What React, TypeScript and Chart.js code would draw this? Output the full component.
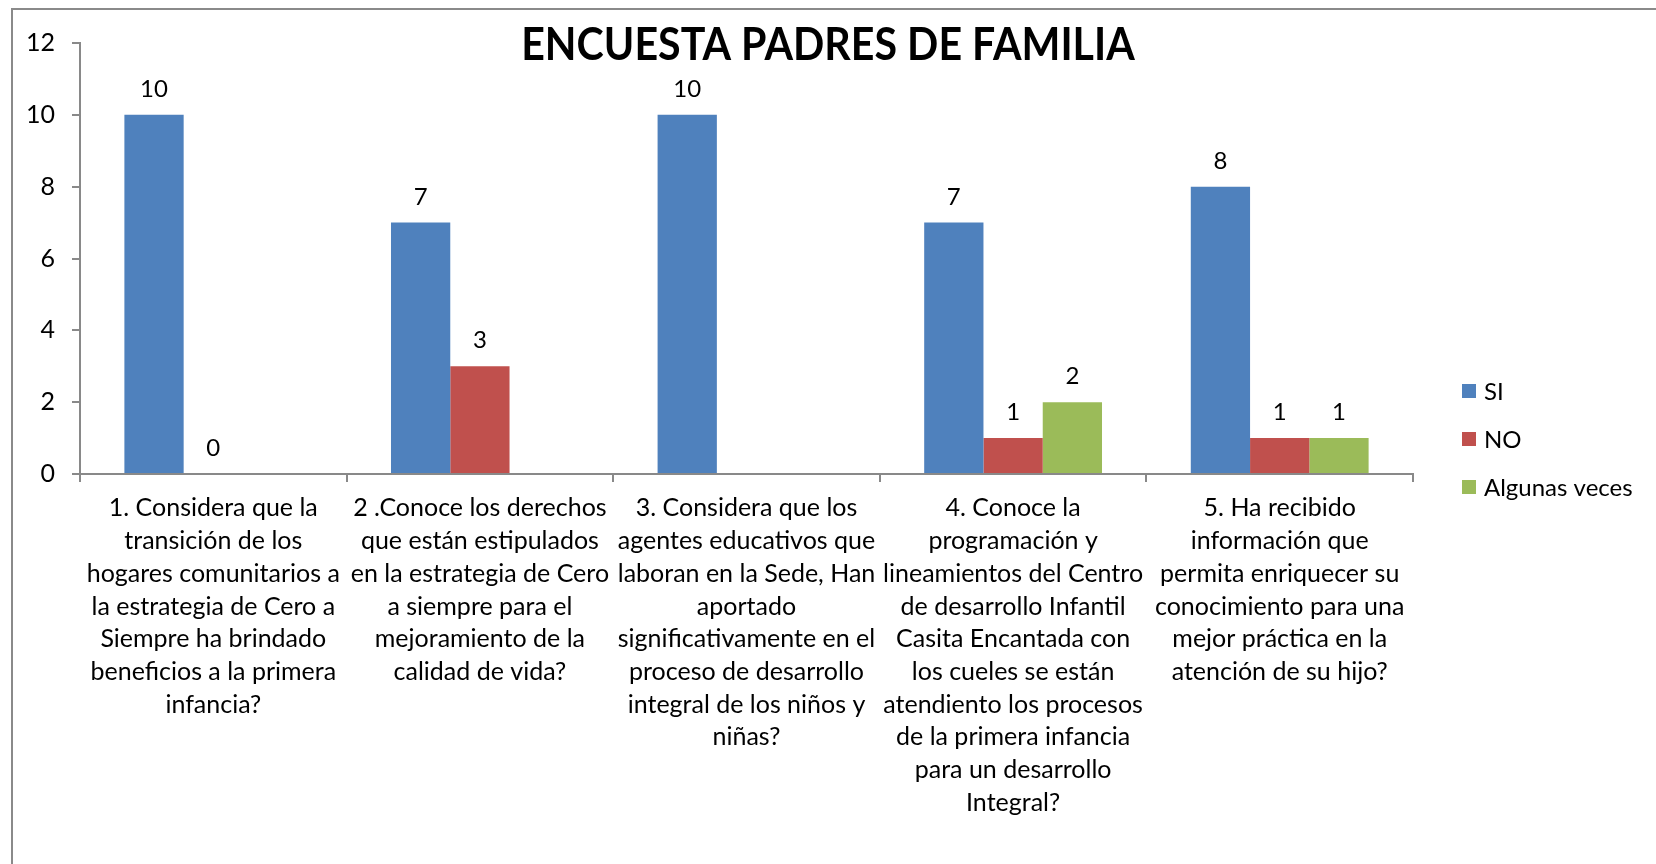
import { useEffect, useRef } from "react";
import { Chart, registerables } from "chart.js";

Chart.register(...registerables);

const chartTitle = "ENCUESTA PADRES DE FAMILIA";

const categories: string[][] = [
  ["1. Considera que la", "transición de los", "hogares comunitarios a", "la estrategia de Cero a", "Siempre ha brindado", "beneficios a la primera", "infancia?"],
  ["2 .Conoce los derechos", "que están estipulados", "en la estrategia de Cero", "a siempre para el", "mejoramiento de la", "calidad de vida?"],
  ["3. Considera que los", "agentes educativos que", "laboran en la Sede, Han", "aportado", "significativamente en el", "proceso de desarrollo", "integral de los niños y", "niñas?"],
  ["4. Conoce la", "programación y", "lineamientos del Centro", "de desarrollo Infantil", "Casita Encantada con", "los cueles se están", "atendiento los procesos", "de la primera infancia", "para un desarrollo", "Integral?"],
  ["5. Ha recibido", "información que", "permita enriquecer su", "conocimiento para una", "mejor práctica en la", "atención de su hijo?"],
];

const seriesNames = ["SI", "NO", "Algunas veces"];
const siValues: (number | null)[] = [10, 7, 10, 7, 8];
const noValues: (number | null)[] = [0, 3, null, 1, 1];
const algunasValues: (number | null)[] = [null, null, null, 2, 1];
const seriesColors = ["#4F81BD", "#C0504D", "#9BBB59"];

const yMin = 0;
const yMax = 12;
const yStep = 2;

const FONT = "Lato, 'Open Sans', sans-serif";
const AXIS_COLOR = "#898989";

const valueLabelsPlugin = {
  id: "valueLabels",
  afterDatasetsDraw(chart: any) {
    const ctx = chart.ctx;
    ctx.save();
    ctx.font = `24px ${FONT}`;
    ctx.fillStyle = "#000";
    ctx.textAlign = "center";
    ctx.textBaseline = "alphabetic";
    chart.data.datasets.forEach((ds: any, di: number) => {
      const meta = chart.getDatasetMeta(di);
      meta.data.forEach((el: any, i: number) => {
        const v = ds.data[i];
        if (v === null || v === undefined) return;
        ctx.fillText(String(v), el.x, el.y - 18);
      });
    });
    ctx.restore();
  },
};

const overlayTitlePlugin = {
  id: "overlayTitle",
  afterDraw(chart: any) {
    const ctx = chart.ctx;
    ctx.save();
    ctx.font = `bold 46px ${FONT}`;
    ctx.fillStyle = "#000";
    ctx.textAlign = "center";
    ctx.textBaseline = "alphabetic";
    ctx.translate(chart.width / 2, 60);
    ctx.scale(0.895, 1);
    ctx.fillText(chartTitle, 0, 0);
    ctx.restore();
  },
};

const sideLegendPlugin = {
  id: "sideLegend",
  afterDraw(chart: any) {
    const ctx = chart.ctx;
    const x0 = chart.chartArea.right + 49;
    const centerY = 439;
    const gap = 48;
    const n = chart.data.datasets.length;
    ctx.save();
    ctx.font = `24px ${FONT}`;
    ctx.textAlign = "left";
    ctx.textBaseline = "middle";
    chart.data.datasets.forEach((ds: any, i: number) => {
      const y = centerY + (i - (n - 1) / 2) * gap;
      ctx.fillStyle = ds.backgroundColor;
      ctx.fillRect(x0, y - 7, 14, 14);
      ctx.fillStyle = "#000";
      ctx.fillText(ds.label, x0 + 22, y + 1);
    });
    ctx.restore();
  },
};

export default function App() {
  const ref = useRef<HTMLCanvasElement | null>(null);

  useEffect(() => {
    if (!ref.current) return;
    const chart = new Chart(ref.current, {
      type: "bar",
      data: {
        labels: categories,
        datasets: [
          { label: seriesNames[0], data: siValues, backgroundColor: seriesColors[0] },
          { label: seriesNames[1], data: noValues, backgroundColor: seriesColors[1] },
          { label: seriesNames[2], data: algunasValues, backgroundColor: seriesColors[2] },
        ],
      },
      options: {
        responsive: false,
        animation: false,
        layout: { padding: { top: 43, right: 243, left: 0, bottom: 0 } },
        datasets: {
          bar: { categoryPercentage: 0.667, barPercentage: 1.0 },
        },
        plugins: {
          legend: { display: false },
          title: { display: false },
          tooltip: { enabled: false },
        },
        scales: {
          x: {
            offset: true,
            grid: {
              display: true,
              drawOnChartArea: false,
              drawTicks: true,
              tickLength: 8,
              color: AXIS_COLOR,
              lineWidth: 2,
              offset: true,
            },
            border: { display: true, color: AXIS_COLOR, width: 2 },
            ticks: {
              autoSkip: false,
              maxRotation: 0,
              minRotation: 0,
              padding: 10,
              color: "#000",
              font: { family: FONT, size: 25, lineHeight: 1.308 },
            },
            afterFit(scale: any) {
              scale.height = 390;
            },
          },
          y: {
            min: yMin,
            max: yMax,
            ticks: {
              stepSize: yStep,
              padding: 17,
              color: "#000",
              font: { family: FONT, size: 25 },
            },
            grid: {
              display: true,
              drawOnChartArea: false,
              drawTicks: true,
              tickLength: 8,
              color: AXIS_COLOR,
              lineWidth: 2,
            },
            border: { display: true, color: AXIS_COLOR, width: 2 },
            afterFit(scale: any) {
              scale.width = 80;
            },
          },
        },
      },
      plugins: [valueLabelsPlugin, overlayTitlePlugin, sideLegendPlugin],
    });
    return () => chart.destroy();
  }, []);

  return (
    <div style={{ position: "absolute", left: 0, top: 0, width: 1656, height: 864, background: "#fff", overflow: "hidden" }}>
      <div
        style={{
          position: "absolute",
          left: 11,
          top: 8,
          width: 1660,
          height: 870,
          borderLeft: "2px solid #8a8a8a",
          borderTop: "2px solid #8a8a8a",
          boxSizing: "border-box",
        }}
      />
      <canvas ref={ref} width={1656} height={864} style={{ position: "absolute", left: 0, top: 0 }} />
    </div>
  );
}
